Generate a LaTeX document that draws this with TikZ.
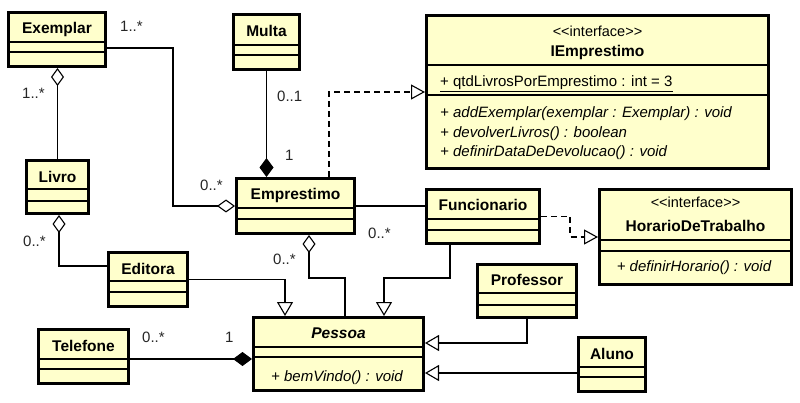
\documentclass[tikz,border=0pt]{standalone}
\usepackage{fontspec}
\setmainfont{Liberation Sans}
\usetikzlibrary{arrows.meta}
\definecolor{clsfill}{RGB}{255,255,204}
\tikzset{
  x=1pt, y=-1pt,
  clsst/.style={draw, line width=3pt, fill=clsfill, inner sep=0pt, outer sep=1.5pt},
  divst/.style={line width=1.5pt},
  nm/.style={font=\fontsize{15.5}{19}\selectfont\bfseries, anchor=base, inner sep=0pt},
  nmi/.style={font=\fontsize{15.5}{19}\selectfont\bfseries\itshape, anchor=base, inner sep=0pt},
  stereo/.style={font=\fontsize{14.5}{19}\selectfont, anchor=base, inner sep=0pt},
  attr/.style={font=\fontsize{15}{19}\selectfont, anchor=base west, inner sep=0pt},
  opc/.style={font=\fontsize{15}{19}\selectfont\itshape, anchor=base, inner sep=0pt},
  opl/.style={font=\fontsize{15}{19}\selectfont\itshape, anchor=base west, inner sep=0pt},
  mult/.style={font=\fontsize{15}{19}\selectfont, anchor=base west, inner sep=0pt, text=black!85},
  conn/.style={line width=1.1pt},
  agg/.style={conn, -{Diamond[fill=white,length=18pt,width=13pt]}},
  comp/.style={conn, -{Diamond[fill=black,length=19pt,width=14pt]}},
  gen/.style={conn, -{Triangle[fill=white,length=14pt,width=16pt]}},
  real/.style={conn, dash pattern=on 6pt off 4pt, -{Triangle[fill=white,length=14pt,width=15pt]}},
}
% #1 name, #2 x1, #3 y1, #4 x2, #5 y2, #6 divider1, #7 divider2
\newcommand\umlcls[7]{%
  \node[clsst, minimum width={#4-#2-3}, minimum height={#5-#3-3}] (#1) at ({(#2+#4)/2},{(#3+#5)/2}) {};
  \draw[divst] ({#2+1.5},#6) -- ({#4-1.5},#6);
  \draw[divst] ({#2+1.5},#7) -- ({#4-1.5},#7);
}
\begin{document}
\begin{tikzpicture}
\fill[white] (0,0) rectangle (800,403);
\useasboundingbox (0,0) rectangle (800,403);

% classes
\umlcls{exemplar}{7}{11}{107}{68}{42}{52}
\umlcls{multa}{232}{13}{301}{71}{45}{55}
\umlcls{iemp}{425}{14}{770}{170}{65}{95}
\umlcls{livro}{25}{159}{90}{215}{189}{201}
\umlcls{emprestimo}{235}{177}{356}{235}{208}{219}
\umlcls{funcionario}{425}{188}{541}{245}{219}{230}
\umlcls{horario}{598}{188}{793}{286}{240}{251}
\umlcls{editora}{107}{251}{189}{308}{281}{292}
\umlcls{professor}{476}{263}{578}{319}{293}{305}
\umlcls{telefone}{37}{328}{130}{385}{359}{369}
\umlcls{pessoa}{252}{316}{425}{392}{347}{357}
\umlcls{aluno}{577}{336}{647}{393}{367}{377}

% class texts
\node[nm] (tExemplar) at (57,34) {Exemplar};
\node[nm] (tMulta) at (266.5,36.5) {Multa};
\node[stereo] (sIemp) at (597.5,37) {<\kern0pt<interface>\kern0pt>};
\node[nm] (tIemp) at (597.5,57) {IEmprestimo};
\node[attr] (aIemp) at (440,86.5) {\underline{+ qtdLivrosPorEmprestimo : int = 3}};
\node[opl] (o1Iemp) at (440,118) {+ addExemplar(exemplar : Exemplar) : void};
\node[opl] (o2Iemp) at (440,137.5) {+ devolverLivros() : boolean};
\node[opl] (o3Iemp) at (440,157) {+ definirDataDeDevolucao() : void};
\node[nm] (tLivro) at (57.5,183) {Livro};
\node[nm] (tEmprestimo) at (295.5,200) {Emprestimo};
\node[nm] (tFuncionario) at (483,211) {Funcionario};
\node[stereo] (sHorario) at (695.5,207.5) {<\kern0pt<interface>\kern0pt>};
\node[nm] (tHorario) at (695.5,231.5) {HorarioDeTrabalho};
\node[opc] (oHorario) at (694,271.5) {+ definirHorario() : void};
\node[nm] (tEditora) at (148,274) {Editora};
\node[nm] (tProfessor) at (527,286) {Professor};
\node[nm] (tTelefone) at (83.5,351) {Telefone};
\node[nmi] (tPessoa) at (338.5,338) {Pessoa};
\node[opc] (oPessoa) at (337,381.5) {+ bemVindo() : void};
\node[nm] (tAluno) at (612,359) {Aluno};

% connectors
\draw[agg] ([yshift=-8.5pt]exemplar.east) -- ++(66,0) |- (emprestimo.west);
\draw[agg] (livro.north) -- (livro.north |- exemplar.south);
\draw[agg] ([yshift=13.5pt]editora.west) -| ([xshift=1.5pt]livro.south);
\draw[gen] (editora.east) -| ([xshift=-53.5pt]pessoa.north);
\coordinate (tl) at ([yshift=-2.5pt]telefone.east);
\draw[comp] (tl) -- (tl -| pessoa.west);
\draw[agg] ([xshift=6.5pt]pessoa.north) -- ++(0,-38) -| ([xshift=13.5pt]emprestimo.south);
\draw[conn] (emprestimo.east) -- (emprestimo.east -| funcionario.west);
\draw[gen] ([xshift=-33pt]funcionario.south) -- ++(0,33) -| ([xshift=45.5pt]pessoa.north);
\draw[gen] (professor.south) |- ([yshift=11pt]pessoa.east);
\draw[gen] ([yshift=-8.5pt]aluno.west) -- ([yshift=-19pt]pessoa.east);
\draw[comp] (multa.south) -- (multa.south |- emprestimo.north);
\draw[real] ([xshift=33.5pt]emprestimo.north) |- (iemp.west);
\draw[real] (funcionario.east) -- ++(29,0) |- (horario.west);

% multiplicities
\node[mult] (m1) at (120,31.5) {1..*};
\node[mult] (m2) at (22,99) {1..*};
\node[mult] (m3) at (200,191) {0..*};
\node[mult] (m4) at (277,102) {0..1};
\node[mult] (m5) at (285,161) {1};
\node[mult] (m6) at (23,247) {0..*};
\node[mult] (m7) at (273,265) {0..*};
\node[mult] (m8) at (368,239) {0..*};
\node[mult] (m9) at (142,342) {0..*};
\node[mult] (m10) at (225,342) {1};
\end{tikzpicture}
\end{document}
